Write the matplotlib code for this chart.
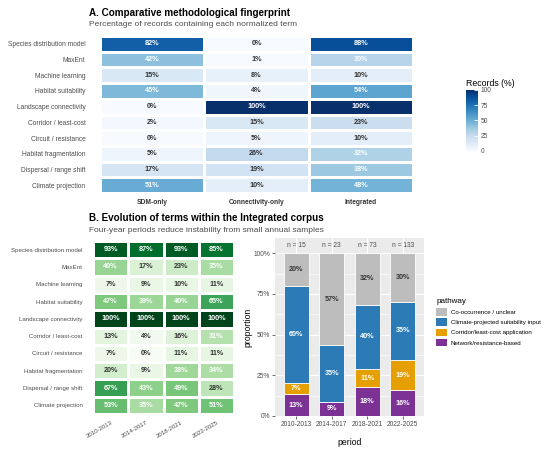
import numpy as np
import matplotlib
matplotlib.use("Agg")
import matplotlib.pyplot as plt
from matplotlib.colors import Normalize
from matplotlib.patches import Patch

plt.rcParams['font.family'] = ['Liberation Sans', 'DejaVu Sans']

# ---------------- data ----------------
terms = ["Species distribution model", "MaxEnt", "Machine learning", "Habitat suitability",
         "Landscape connectivity", "Corridor / least-cost", "Circuit / resistance",
         "Habitat fragmentation", "Dispersal / range shift", "Climate projection"]
groups = ["SDM-only", "Connectivity-only", "Integrated"]
sdm_only = [82, 42, 15, 45, 0, 2, 0, 5, 17, 51]
conn_only = [0, 1, 8, 4, 100, 15, 5, 26, 19, 10]
integrated = [88, 30, 10, 54, 100, 23, 10, 32, 38, 48]

periods = ["2010-2013", "2014-2017", "2018-2021", "2022-2025"]
p2010 = [93, 40, 7, 47, 100, 13, 7, 20, 67, 53]
p2014 = [87, 17, 9, 39, 100, 4, 0, 9, 43, 35]
p2018 = [93, 23, 10, 40, 100, 16, 11, 38, 49, 47]
p2022 = [85, 35, 11, 65, 100, 31, 11, 34, 28, 51]

pathways = ["Network/resistance-based", "Corridor/least-cost application",
            "Climate-projected suitability input", "Co-occurrence / unclear"]
pathway_colors = ["#7B3294", "#E69F00", "#2C7BB6", "#BDBDBD"]
n_network = [2, 2, 13, 21]
n_corridor = [1, 0, 8, 25]
n_climate = [9, 8, 29, 47]
n_cooc = [3, 13, 23, 40]

# ---------------- figure ----------------
W, H = 550, 453
fig = plt.figure(figsize=(W / 100, H / 100), dpi=100)


def add_ax(x0, y0, x1, y1):
    return fig.add_axes([x0 / W, 1 - y1 / H, (x1 - x0) / W, (y1 - y0) / H])


LAB = "#4D4D4D"
DARK = "#333333"
FS_CELL = 5.2


def heatmap(ax, mat, cmap, xlabels, fs_lab, ypad, rot=False):
    mat = np.asarray(mat, dtype=float)
    nr, nc = mat.shape
    norm = Normalize(0, 100)
    ax.pcolormesh(np.arange(nc + 1), np.arange(nr + 1), mat, cmap=cmap, norm=norm,
                  edgecolors="white", linewidth=1.0)
    ax.set_xlim(0, nc)
    ax.set_ylim(nr, 0)
    for i in range(nr):
        for j in range(nc):
            v = mat[i, j]
            ax.text(j + 0.5, i + 0.5, f"{v:.0f}%", ha="center", va="center",
                    fontsize=FS_CELL, fontweight="bold",
                    color="white" if v >= 30 else DARK)
    ax.set_yticks(np.arange(nr) + 0.5)
    ax.set_yticklabels(terms, fontsize=fs_lab, color=LAB)
    ax.set_xticks(np.arange(nc) + 0.5)
    if rot:
        ax.set_xticklabels(xlabels, fontsize=fs_lab, color=LAB, rotation=30,
                           ha="right", rotation_mode="anchor")
    else:
        ax.set_xticklabels(xlabels, fontsize=fs_lab, color=DARK, fontweight="bold")
    ax.tick_params(axis="y", length=0, pad=ypad)
    ax.tick_params(axis="x", length=0, pad=4)
    for s in ax.spines.values():
        s.set_visible(False)
    return norm


# ---------- Panel A ----------
fig.text(89 / W, 1 - 13 / H, "A. Comparative methodological fingerprint",
         fontsize=7.1, fontweight="bold", color="black", va="center", ha="left")
fig.text(89 / W, 1 - 25 / H, "Percentage of records containing each normalized term",
         fontsize=6.0, color=LAB, va="center", ha="left")

axA = add_ax(100, 36, 413, 193)
matA = np.column_stack([sdm_only, conn_only, integrated])
normA = heatmap(axA, matA, "Blues", groups, fs_lab=4.8, ypad=10.5)

cax = add_ax(466, 90, 478, 151)
cb = fig.colorbar(matplotlib.cm.ScalarMappable(norm=normA, cmap="Blues"), cax=cax,
                  ticks=[0, 25, 50, 75, 100])
cb.outline.set_visible(False)
cax.tick_params(labelsize=4.8, labelcolor=LAB, length=3, color="white", direction="in",
                width=0.6, pad=2)
fig.text(466 / W, 1 - 83 / H, "Records (%)", fontsize=6.3, color="black",
         va="center", ha="left")

# ---------- Panel B ----------
fig.text(89 / W, 1 - 218 / H, "B. Evolution of terms within the Integrated corpus",
         fontsize=7.1, fontweight="bold", color="black", va="center", ha="left")
fig.text(89 / W, 1 - 230 / H, "Four-year periods reduce instability from small annual samples",
         fontsize=6.0, color=LAB, va="center", ha="left")

axB1 = add_ax(93, 241, 234, 414)
matB = np.column_stack([p2010, p2014, p2018, p2022])
heatmap(axB1, matB, "Greens", periods, fs_lab=4.4, ypad=7.5, rot=True)

# stacked bars
axB2 = add_ax(275, 238, 424, 416)
axB2.set_facecolor("#EBEBEB")
counts = np.array([n_network, n_corridor, n_climate, n_cooc], dtype=float)
totals = counts.sum(axis=0)
props = counts / totals
x = np.arange(1, len(periods) + 1)
bottom = np.zeros(len(periods))
handles = []
for k, (name, col) in enumerate(zip(pathways, pathway_colors)):
    axB2.bar(x, props[k], width=0.7, bottom=bottom, color=col, edgecolor="white",
             linewidth=0.6, zorder=3)
    for xi, b, p in zip(x, bottom, props[k]):
        if p > 0:
            axB2.text(xi, b + p / 2, f"{p * 100:.0f}%", ha="center", va="center",
                      fontsize=FS_CELL, fontweight="bold",
                      color=DARK if k == 3 else "white", zorder=4)
    handles.append(Patch(facecolor=col, edgecolor="none", label=name))
    bottom = bottom + props[k]
for xi, t in zip(x, totals):
    axB2.text(xi, 1.05, f"n = {t:.0f}", ha="center", va="center", fontsize=4.8,
              color=LAB, zorder=4)
axB2.set_xlim(0.4, 4.6)
axB2.set_ylim(0, 1.094)
axB2.set_yticks([0, 0.25, 0.5, 0.75, 1.0])
axB2.set_yticklabels(["0%", "25%", "50%", "75%", "100%"])
axB2.set_yticks([0.125, 0.375, 0.625, 0.875], minor=True)
axB2.set_xticks(x)
axB2.set_xticklabels(periods)
axB2.grid(True, which="major", color="white", linewidth=0.8, zorder=0)
axB2.grid(True, which="minor", axis="y", color="white", linewidth=0.4, zorder=0)
axB2.set_axisbelow(True)
axB2.tick_params(which="major", labelsize=4.8, labelcolor=LAB, length=2, width=0.5,
                 color=DARK, pad=1.5)
axB2.tick_params(which="minor", length=0)
for s in axB2.spines.values():
    s.set_visible(False)
axB2.set_ylabel("proportion", fontsize=6.2, color="black", labelpad=0.5)
axB2.set_xlabel("period", fontsize=6.2, color="black", labelpad=7)

leg = fig.legend(handles=handles[::-1], loc="upper left",
                 bbox_to_anchor=(434 / W, 1 - 296 / H), frameon=False, title="pathway",
                 fontsize=4.4, title_fontsize=5.8, handlelength=1.75, handleheight=1.5,
                 labelspacing=0.45, handletextpad=0.6, alignment="left", borderaxespad=0)

fig.savefig("out.png", dpi=100, facecolor="white")
